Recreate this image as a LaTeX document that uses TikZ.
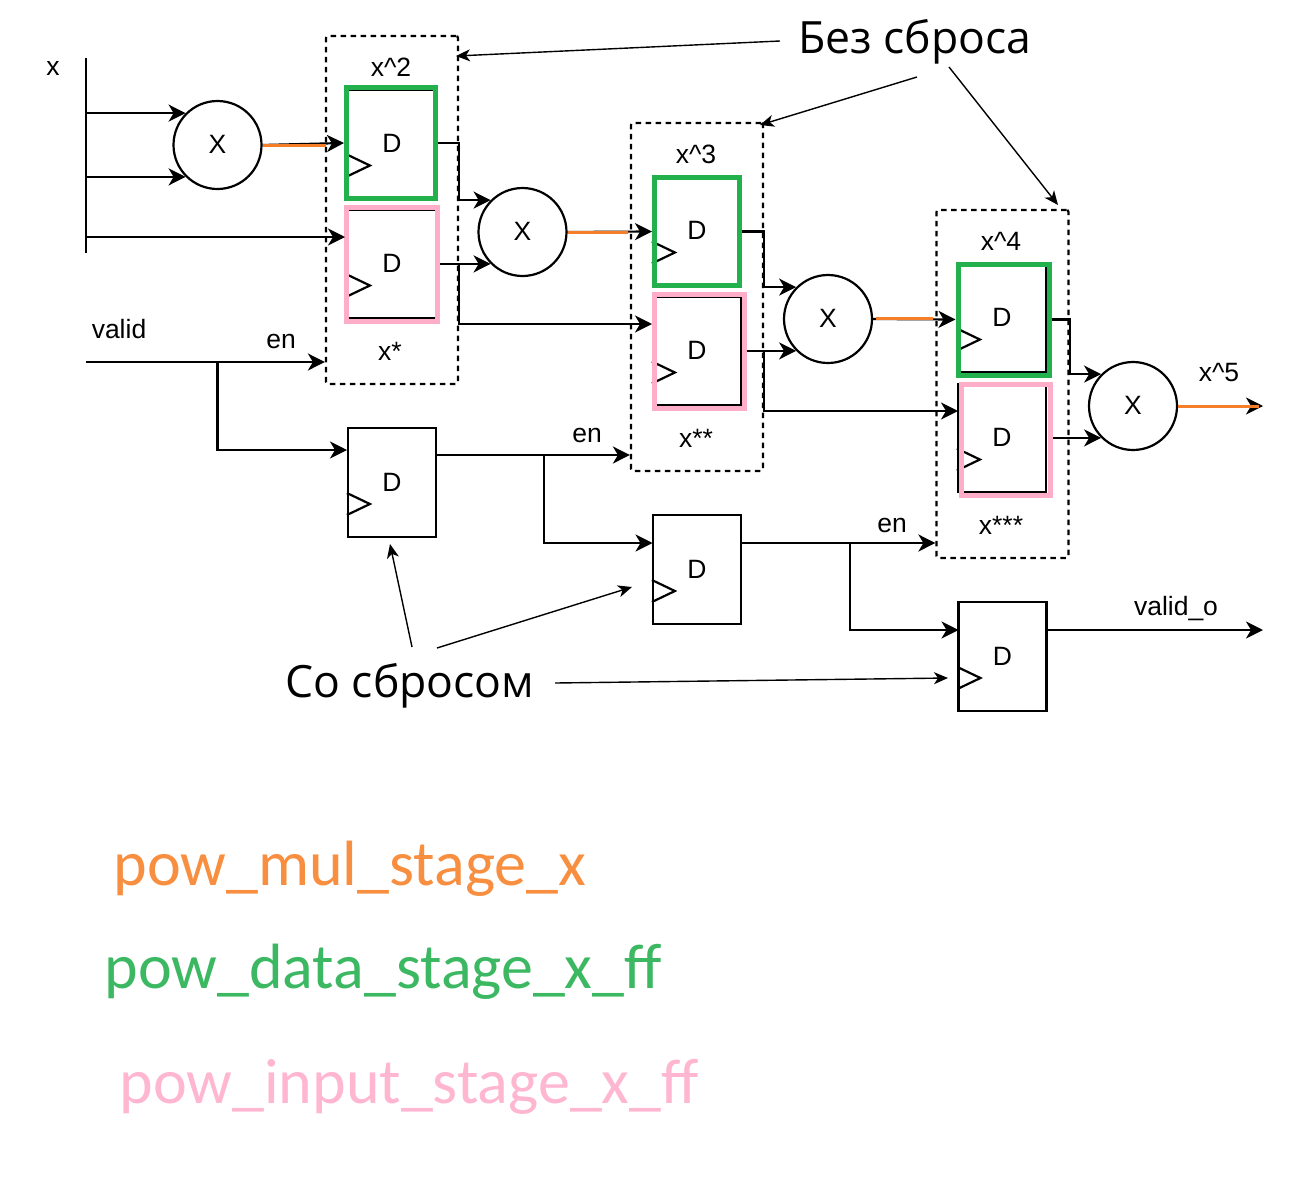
\documentclass[tikz,border=0pt]{standalone}
\usepackage{fontspec}
\setmainfont{Liberation Sans}
\newfontfamily\notefont{Open Sans}
\newfontfamily\legendfont{Carlito}
\usetikzlibrary{arrows.meta,positioning,calc}
\definecolor{hlorange}{HTML}{F57F28}
\definecolor{hlgreen}{HTML}{22B14C}
\definecolor{hlpink}{HTML}{FFAEC9}
\definecolor{txtorange}{HTML}{F88F40}
\definecolor{txtgreen}{HTML}{3CB862}
\definecolor{txtpink}{HTML}{FFB6D0}
\tikzset{
	dff/.style={draw,rectangle,minimum width=88pt,minimum height=108pt,inner sep=0pt},
	mulnode/.style={draw,circle,minimum size=88pt,inner sep=0pt},
	stagebox/.style={draw,rectangle,dash pattern=on 5.5pt off 4.5pt,rounded corners=2pt,minimum width=132pt,minimum height=348pt},
	greenbox/.style={draw=hlgreen,rectangle,line width=5pt,inner sep=0pt},
	pinkbox/.style={draw=hlpink,rectangle,line width=5pt,inner sep=0pt},
	orangeline/.style={draw=hlorange,line width=3pt},
	note/.style={line width=1.4pt,-{Stealth[length=14pt,width=12pt,inset=4pt]}},
	notetext/.style={font=\notefont\fontsize{44.5}{44.5}\selectfont},
	legend/.style={anchor=base west,font=\legendfont\fontsize{64}{64}\selectfont},
}
\begin{document}
\begin{tikzpicture}[x=1pt,y=-1pt,on grid,line width=2.2pt,font=\fontsize{26.5}{26.5}\selectfont,
	>={Stealth[length=17pt,width=17pt,inset=5pt]}]
\useasboundingbox (0,0) rectangle (1295,1202);
% flip-flops
\node[dff] (ff1a) at (392,144) {\raisebox{1pt}{D}\hspace{3pt}};
\node[dff,below=120pt of ff1a] (ff1b) {\raisebox{1pt}{D}\hspace{3pt}};
\node[dff,below right=87pt and 305pt of ff1a] (ff2a) {\raisebox{1pt}{D}\hspace{3pt}};
\node[dff,below=120pt of ff2a] (ff2b) {\raisebox{1pt}{D}\hspace{3pt}};
\node[dff,below right=87pt and 305pt of ff2a] (ff3a) {\raisebox{1pt}{D}\hspace{3pt}};
\node[dff,below=120pt of ff3a] (ff3b) {\raisebox{1pt}{D}\hspace{3pt}};
\node[dff,minimum height=109pt] (rst1) at (392,482.5) {\raisebox{1pt}{D}\hspace{3pt}};
\node[dff,minimum height=109pt,below right=87pt and 305pt of rst1] (rst2) {\raisebox{1pt}{D}\hspace{3pt}};
\node[dff,minimum height=109pt,below right=87pt and 305.5pt of rst2] (rst3) {\raisebox{1pt}{D}\hspace{3pt}};
\foreach \ff in {ff1a,ff1b,ff2a,ff2b,ff3a,ff3b,rst1,rst2,rst3}
	\draw (\ff.west)++(0,10.5) -- ++(23,11) -- ++(-23,11);
% highlights
\node[greenbox,minimum width=89pt,minimum height=111pt] (g1) at (391,143) {};
\node[greenbox,minimum width=85pt,minimum height=108pt] (g2) at (697,231.5) {};
\node[greenbox,minimum width=91pt,minimum height=111pt] (g3) at (1003.5,319.5) {};
\node[pinkbox,minimum width=91pt,minimum height=114pt] (p1) at (392,264.5) {};
\node[pinkbox,minimum width=90pt,minimum height=114pt] (p2) at (699.5,351.5) {};
\node[pinkbox,minimum width=89pt,minimum height=111pt] (p3) at (1006,440) {};
% stages
\node[stagebox] (stage1) at (392,210) {};
\node[stagebox,below right=87pt and 305pt of stage1] (stage2) {};
\node[stagebox,below right=87pt and 305.5pt of stage2] (stage3) {};
% multipliers
\node[mulnode] (mul1) at (217.5,145) {\raisebox{1pt}{X}\hspace{2pt}};
\node[mulnode,below right=87pt and 305pt of mul1] (mul2) {\raisebox{1pt}{X}\hspace{2pt}};
\node[mulnode,below right=87pt and 305.5pt of mul2] (mul3) {\raisebox{1pt}{X}\hspace{2pt}};
\node[mulnode,below right=87pt and 305pt of mul3] (mul4) {\raisebox{1pt}{X}\hspace{2pt}};
% labels
\node (xlab) at (53,68) {x};
\node (pw2) at (391,67) {x\textasciicircum 2};
\node (pw3) at (696,154) {x\textasciicircum 3};
\node (pw4) at (1001,241) {x\textasciicircum 4};
\node (pw5) at (1219,373) {x\textasciicircum 5};
\node (st1) at (390,351) {x*};
\node (st2) at (696,438) {x**};
\node (st3) at (1001,525) {x***};
\node (validlab) at (119,329) {valid};
\node (en1) at (281,341) {en};
\node (en2) at (587,435) {en};
\node (en3) at (892,525) {en};
\node (validolab) at (1176,609) {valid\_o};
\node[notetext] (nors) at (915,42) {Без сброса};
\node[notetext] (withrs) at (410,686) {Со сбросом};
\node[legend,text=txtorange] (lgmul) at (109,885) {pow\_mul\_stage\_x};
\node[legend,text=txtgreen] (lgdata) at (100,988) {pow\_data\_stage\_x\_ff};
\node[legend,text=txtpink] (lginp) at (115,1103) {pow\_input\_stage\_x\_ff};
% free ends
\coordinate (xtop) at (86,58);
\coordinate (xbot) at (86,253);
\coordinate (in1) at (345,237);
\coordinate (in2) at (652,324);
\coordinate (in3) at (958,411);
\coordinate (vld) at (86,362);
\coordinate (vldo) at (1263,630);
\coordinate (xout) at (1263,406);
\draw (xtop) -- (xbot);
\path[->]
	(xtop|-mul1.north west) edge (mul1.north west)
	(xtop|-mul1.south west) edge (mul1.south west)
	(xtop|-in1) edge (in1)
	(mul1.east) edge (g1.west)
	(mul2.east) edge (g2.west)
	(mul3.east) edge (g3.west)
	(mul4.east) edge (xout)
	(p1.east|-mul2.south west) edge (mul2.south west)
	(p2.east|-mul3.south west) edge (mul3.south west)
	(p3.east|-mul4.south west) edge (mul4.south west)
	(vld) edge (stage1.west|-vld)
; %-path-%
\draw[->] (g1.east) -| (stage1.east|-mul2.north west) -- (mul2.north west);
\draw[->] (g2.east) -| (stage2.east|-mul3.north west) -- (mul3.north west);
\draw[->] (g3.east) -| (stage3.east|-mul4.north west) -- (mul4.north west);
\draw[->] (stage1.east|-mul2.south west) |- (in2);
\draw[->] (stage2.east|-mul3.south west) |- (in3);
% valid chain
\coordinate (rst1in) at (347,450);
\coordinate (rst1out) at (436,455);
\coordinate (rst2in) at (652.5,543);
\coordinate (rst2out) at (741,543);
\coordinate (rst3in) at (958.5,630);
\coordinate (rst3out) at (1047,630);
\coordinate (br1) at (544,455);
\coordinate (br2) at (850,543);
\draw[->] (mul1|-vld) |- (rst1in);
\draw[->] (rst1out) -- (stage2.west|-rst1out);
\draw[->] (br1) |- (rst2in);
\draw[->] (rst2out) -- (stage3.west|-rst2out);
\draw[->] (br2) |- (rst3in);
\draw[->] (rst3out) -- (vldo);
% orange over the black
\draw[orangeline] (mul1.east) -- ++(63,0);
\draw[orangeline] (mul2.east) -- ++(60,0);
\draw[orangeline] (mul3.east) ++(3,-1) -- ++(57,0);
\draw[orangeline] (mul4.east) -- ++(81,0);
% notes
\coordinate (nors0) at (780,41);
\coordinate (nors4) at (917,77);
\coordinate (nors5) at (949,67);
\coordinate (tonors1) at (456,56);
\coordinate (tonors2) at (760,125);
\coordinate (tonors3) at (1058,205);
\coordinate (rs1) at (412,647);
\coordinate (rs2) at (437,648);
\coordinate (rs3) at (555,683);
\coordinate (tors1) at (390,544);
\coordinate (tors2) at (632,587);
\coordinate (tors3) at (948,678);
\draw[note] (nors0) -- (tonors1);
\draw[note] (nors4) -- (tonors2);
\draw[note] (nors5) -- (tonors3);
\draw[note] (rs1) -- (tors1);
\draw[note] (rs2) -- (tors2);
\draw[note] (rs3) -- (tors3);
\end{tikzpicture}
\end{document}
